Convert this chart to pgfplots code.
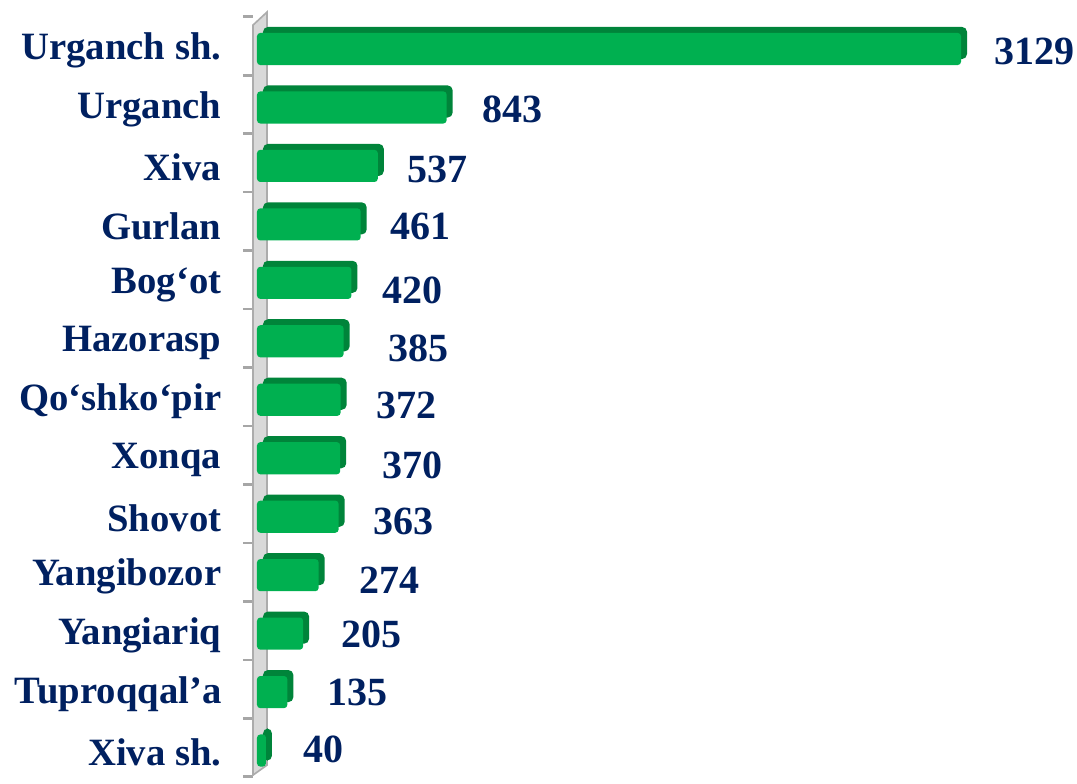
\documentclass[border=0pt]{standalone}
\usepackage{pgfplots}
\pgfplotsset{compat=1.18}
\usepackage{pgfplotstable}
\usepackage{fontspec}
\setmainfont{Liberation Serif}
\definecolor{navy}{RGB}{0,32,96}
\definecolor{gfront}{RGB}{0,176,80}
\definecolor{gback}{RGB}{0,132,58}

\pgfplotstableread{
y v dx dy
0 3129 33 5.5
1 843 35 5
2 537 29 7
3 461 29 5
4 420 30 11
5 385 44 10
6 372 35 9
7 370 42 10
8 363 34 8
9 274 40 8
10 205 38 4
11 135 39 3
12 40 37 2
}\data

\begin{document}
\begin{tikzpicture}
\begin{axis}[
  scale only axis, width=222.75pt, height=228pt,
  xmin=0, xmax=3300, ymin=-0.5, ymax=12.5, y dir=reverse,
  hide x axis,
  y axis line style={draw=none},
  ytick pos=left,
  ytick={0,...,12},
  yticklabels={Urganch sh., Urganch, Xiva, Gurlan, Bog‘ot, Hazorasp, Qo‘shko‘pir, Xonqa, Shovot, Yangibozor, Yangiariq, Tuproqqal’a, Xiva sh.},
  major tick length=0pt,
  tick align=inside,
  yticklabel style={font=\fontsize{11.6}{12}\selectfont\bfseries, text=navy, anchor=east, inner sep=0pt, xshift=-10.5pt, yshift=-1.4pt},
  extra y ticks={-0.5,0.5,...,12.5}, extra y tick labels={},
  extra y tick style={major tick length=3pt, tick align=outside, tick style={draw=gray!70, line width=0.8pt, xshift=-1.2pt}},
  clip=false,
]
\path ([shift={(-77.1pt,5.025pt)}]axis cs:0,-0.5) rectangle ++(323.1pt,-233.1pt);
\filldraw[fill=gray!30, draw=gray!65, line width=0.5pt]
  ([shift={(-1.2pt,-2.5pt)}]axis cs:0,-0.5) -- ([shift={(3pt,1.4pt)}]axis cs:0,-0.5)
  -- ([shift={(3pt,3.5pt)}]axis cs:0,12.5) -- ([shift={(-1.2pt,0.5pt)}]axis cs:0,12.5) -- cycle;
\addplot[xbar, bar width=0.55, draw=none, fill=gback, xshift=1.8pt, yshift=0.9pt, rounded corners=1.5pt]
  table[x=v,y=y]{\data};
\addplot[xbar, bar width=0.55, draw=none, fill=gfront, yshift=-0.9pt, rounded corners=1pt]
  table[x=v,y=y]{\data};
\addplot[draw=none, mark=none, point meta=explicit symbolic, nodes near coords,
  visualization depends on={\thisrow{dx} \as \ldx},
  visualization depends on={\thisrow{dy} \as \ldy},
  every node near coord/.append style={anchor=west, inner sep=0pt, xshift={\ldx*0.3pt}, yshift={-\ldy*0.3pt}, font=\fontsize{12}{12}\selectfont\bfseries, text=navy}]
  table[x=v, y=y, meta=v]{\data};
\end{axis}
\end{tikzpicture}
\end{document}
